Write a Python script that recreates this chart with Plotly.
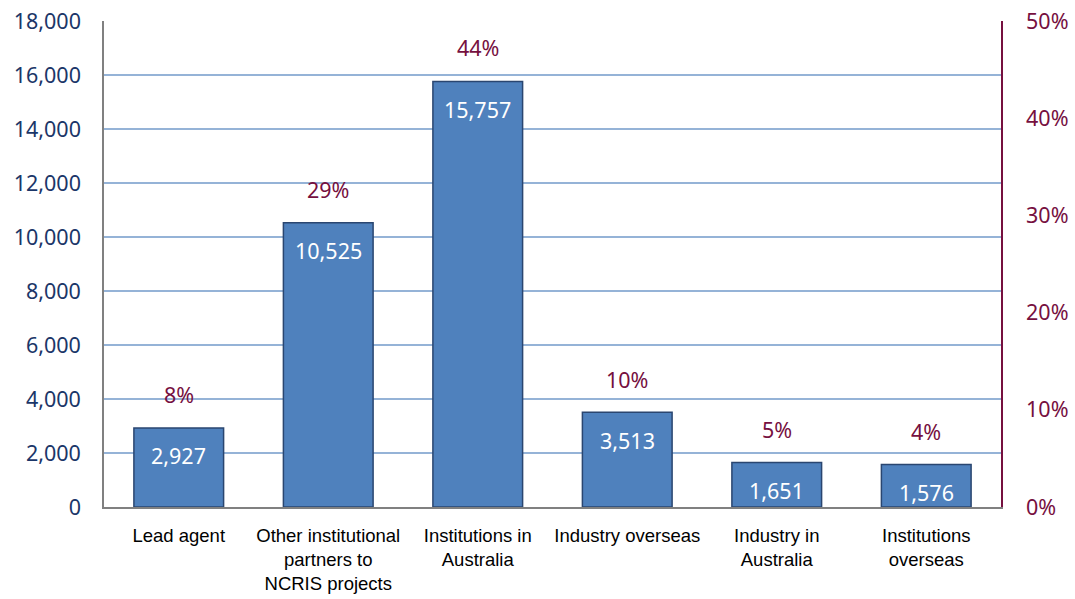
import plotly.graph_objects as go

categories = ["Lead agent", "Other institutional<br>partners to<br>NCRIS projects",
              "Institutions in<br>Australia", "Industry overseas",
              "Industry in<br>Australia", "Institutions<br>overseas"]
values = [2927, 10525, 15757, 3513, 1651, 1576]
pct_labels = ["8%", "29%", "44%", "10%", "5%", "4%"]
left_ticks = [0, 2000, 4000, 6000, 8000, 10000, 12000, 14000, 16000, 18000]
right_ticks = [0, 10, 20, 30, 40, 50]
right_tick_text = ["0%", "10%", "20%", "30%", "40%", "50%"]

total = sum(values)
shares = [v / total * 100 for v in values]

NAVY = "#1B3668"
MAROON = "#76103F"
BAR = "#4F81BD"
GRID = "#95B3D7"
FONT = "Noto Sans, Open Sans"

fig = go.Figure()
fig.add_trace(go.Bar(
    x=categories, y=values, width=0.6,
    marker=dict(color=BAR, line=dict(color="#2A4670", width=1.5)),
    showlegend=False, hoverinfo="skip",
))
fig.add_trace(go.Scatter(
    x=categories, y=shares, yaxis="y2", mode="markers",
    marker=dict(opacity=0), showlegend=False, hoverinfo="skip",
))

for c, v, s, p in zip(categories, values, shares, pct_labels):
    fig.add_annotation(x=c, y=v, yref="y", text=f"{v:,}", showarrow=False,
                       yshift=-28, font=dict(family=FONT, size=21.5, color="white"))
    fig.add_annotation(x=c, y=s, yref="y2", text=p, showarrow=False,
                       yshift=33, font=dict(family=FONT, size=21.5, color=MAROON))

fig.update_layout(
    width=1075, height=599,
    margin=dict(l=104, r=74, t=21, b=92, autoexpand=False),
    plot_bgcolor="white", paper_bgcolor="white",
    bargap=0.4,
    xaxis=dict(
        showgrid=False, showline=True, linecolor="#808080", linewidth=1.5,
        tickfont=dict(family="Liberation Sans Narrow, Arial Narrow, Liberation Sans", size=18.5, color="black"),
        ticks="", ticklabelstandoff=11,
    ),
    yaxis=dict(
        range=[0, 18000], tickvals=left_ticks, tickformat=",",
        showgrid=True, gridcolor=GRID, gridwidth=1.5,
        showline=True, linecolor="#808080", linewidth=1.5,
        tickfont=dict(family=FONT, size=21.5, color=NAVY),
        ticks="", ticklabelstandoff=17, zeroline=False,
    ),
    yaxis2=dict(
        range=[0, 50], tickvals=right_ticks, ticktext=right_tick_text,
        overlaying="y", side="right", showgrid=False,
        showline=True, linecolor=MAROON, linewidth=1.5,
        tickfont=dict(family=FONT, size=21.5, color=MAROON),
        ticks="", ticklabelstandoff=19, zeroline=False,
    ),
)

fig.write_html("out.html", config={"displayModeBar": False},
               post_script="document.body.style.margin='0';document.body.style.overflow='hidden';")
